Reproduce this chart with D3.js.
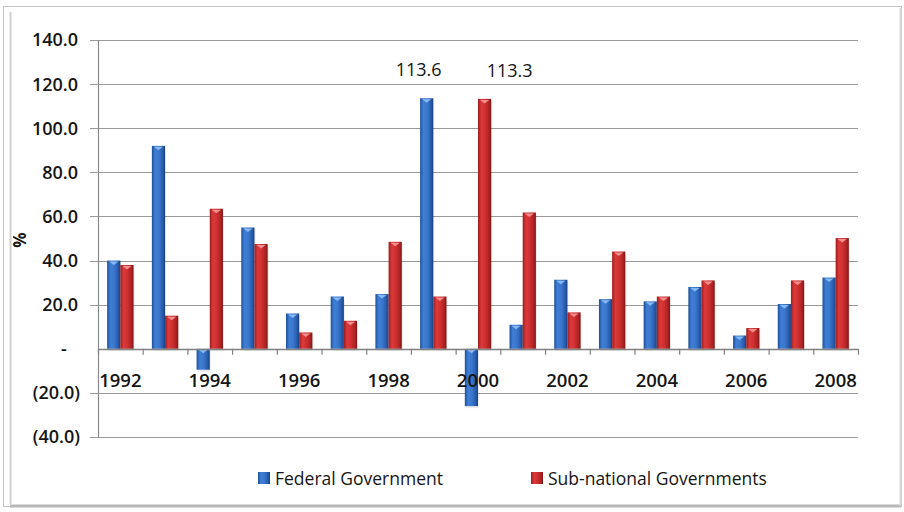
<!DOCTYPE html>
<html>
<head>
<meta charset="utf-8">
<script src="https://cdn.jsdelivr.net/npm/d3@7/dist/d3.min.js"></script>
<style>
  html, body { margin: 0; padding: 0; background: #fff; }
  svg { display: block; }
  text { font-family: "Open Sans", "Noto Sans", sans-serif; fill: #151515; }
</style>
</head>
<body>
<svg id="chart" width="904" height="512"></svg>
<script>
const years = ["1992","1993","1994","1995","1996","1997","1998","1999","2000","2001","2002","2003","2004","2005","2006","2007","2008"];
const federal = [40.0, 92.0, -9.5, 55.0, 16.0, 23.7, 24.8, 113.6, -26.0, 10.9, 31.3, 22.5, 21.5, 28.0, 6.0, 20.3, 32.3];
const subnational = [38.0, 15.0, 63.5, 47.5, 7.4, 12.7, 48.5, 23.7, 113.3, 61.8, 16.5, 44.1, 23.7, 31.0, 9.4, 31.0, 50.2];
const yTicks = [-40, -20, 0, 20, 40, 60, 80, 100, 120, 140];
const xLabelYears = ["1992","1994","1996","1998","2000","2002","2004","2006","2008"];
const seriesNames = ["Federal Government", "Sub-national Governments"];
const labelled = [{ series: 0, year: "1999", text: "113.6" }, { series: 1, year: "2000", text: "113.3" }];

(function () {
const svg = d3.select("#chart");
const pL = 98, pR = 858, pT = 40, pB = 437;

// frame
svg.append("rect").attr("x", 3.5).attr("y", 6.5).attr("width", 898).attr("height", 500)
  .attr("fill", "#fff").attr("stroke", "#c4c4c4").attr("stroke-width", 1);
svg.append("line").attr("x1", 10.5).attr("x2", 10.5).attr("y1", 12).attr("y2", 504)
  .attr("stroke", "#d0d0d0").attr("stroke-width", 2);
svg.append("line").attr("x1", 10).attr("x2", 901).attr("y1", 506).attr("y2", 506)
  .attr("stroke", "#b8b8b8").attr("stroke-width", 3);
svg.append("line").attr("x1", 900.5).attr("x2", 900.5).attr("y1", 8).attr("y2", 506)
  .attr("stroke", "#d8d8d8").attr("stroke-width", 2);

const defs = svg.append("defs");
function grad(id, stops) {
  const g = defs.append("linearGradient").attr("id", id).attr("x1", "0%").attr("x2", "100%").attr("y1", "0%").attr("y2", "0%");
  stops.forEach(s => g.append("stop").attr("offset", s[0]).attr("stop-color", s[1]));
}
grad("gBlue", [["0%", "#1e4f99"], ["25%", "#3f7fd6"], ["55%", "#3a76cc"], ["85%", "#2658a8"], ["100%", "#1a3f7e"]]);
grad("gRed", [["0%", "#9c1c1c"], ["25%", "#dc3a3a"], ["55%", "#cf2f2f"], ["85%", "#a92222"], ["100%", "#7e1414"]]);
const fills = ["url(#gBlue)", "url(#gRed)"];
const capFill = ["#8fc0f5", "#f59a9a"];

const x = d3.scaleBand().domain(years).range([pL, pR]).paddingInner(0).paddingOuter(0);
const y = d3.scaleLinear().domain([-40, 140]).range([pB, pT]);
const bw = x.bandwidth() * 0.295;

// gridlines
svg.append("g").selectAll("line").data(yTicks.filter(t => t !== 0)).join("line")
  .attr("x1", pL - 8).attr("x2", pR)
  .attr("y1", d => Math.round(y(d)) + 0.5).attr("y2", d => Math.round(y(d)) + 0.5)
  .attr("stroke", "#9a9a9a").attr("stroke-width", 1.2);

// y axis line
svg.append("line").attr("x1", pL + 0.5).attr("x2", pL + 0.5).attr("y1", y(140)).attr("y2", y(-40))
  .attr("stroke", "#8a8a8a").attr("stroke-width", 1.2);

// y tick labels
const fmt = d => d === 0 ? "-" : (d < 0 ? "(" + Math.abs(d).toFixed(1) + ")" : d.toFixed(1));
svg.append("g").selectAll("text").data(yTicks).join("text")
  .attr("x", d => d === 0 ? pL - 34 : (d < 0 ? pL - 18 : pL - 20))
  .attr("y", d => y(d))
  .attr("dy", "0.36em")
  .attr("text-anchor", d => d === 0 ? "middle" : "end")
  .attr("font-size", 18).attr("font-weight", 600)
  .text(fmt);

// bars
const groups = [federal, subnational];
groups.forEach((vals, si) => {
  const g = svg.append("g");
  const data = years.map((yr, i) => ({ yr, v: vals[i] }));
  const bx = d => x(d.yr) + x.bandwidth() / 2 + (si === 0 ? -bw : 0);
  g.selectAll("rect.sh").data(data).join("rect").attr("class", "sh")
    .attr("x", d => bx(d) + 1).attr("width", bw)
    .attr("y", d => Math.min(y(d.v), y(0)) + 2)
    .attr("height", d => Math.abs(y(d.v) - y(0)))
    .attr("fill", "#000").attr("opacity", 0.08);
  g.selectAll("rect.bar").data(data).join("rect").attr("class", "bar")
    .attr("x", bx).attr("width", bw)
    .attr("y", d => Math.min(y(d.v), y(0)))
    .attr("height", d => Math.abs(y(d.v) - y(0)))
    .attr("fill", fills[si]);
  g.selectAll("path.cap").data(data).join("path").attr("class", "cap")
    .attr("d", d => {
      const x0 = bx(d), yt = Math.min(y(d.v), y(0));
      return `M${x0 + 2},${yt + 1} L${x0 + bw - 2},${yt + 1} L${x0 + bw / 2},${yt + 4.5} Z`;
    })
    .attr("fill", capFill[si]).attr("opacity", 0.9);
});

// x axis (zero line)
svg.append("line").attr("x1", pL).attr("x2", pR).attr("y1", Math.round(y(0)) + 0.5).attr("y2", Math.round(y(0)) + 0.5)
  .attr("stroke", "#808080").attr("stroke-width", 1.3);
const bounds = years.map(d => x(d)).concat([pR]);
svg.append("g").selectAll("line").data(bounds).join("line")
  .attr("x1", d => d + 0.5).attr("x2", d => d + 0.5)
  .attr("y1", y(0)).attr("y2", y(0) + 6)
  .attr("stroke", "#808080").attr("stroke-width", 1.2);

// x labels
svg.append("g").selectAll("text").data(xLabelYears).join("text")
  .attr("x", d => x(d) + x.bandwidth() / 2)
  .attr("y", 387)
  .attr("text-anchor", "middle")
  .attr("font-size", 18.5).attr("font-weight", 600)
  .text(d => d);

// data labels
labelled.forEach(l => {
  const vals = groups[l.series];
  const v = vals[years.indexOf(l.year)];
  const cx = x(l.year) + x.bandwidth() / 2 + (l.series === 0 ? -bw / 2 - 8 : bw / 2 + 25);
  svg.append("text").attr("x", cx).attr("y", y(v) - 22)
    .attr("text-anchor", "middle").attr("font-size", 18).attr("font-weight", 400)
    .text(l.text);
});

// axis title
svg.append("text").attr("transform", "translate(26,240) rotate(-90)")
  .attr("text-anchor", "middle").attr("font-size", 17).attr("font-weight", 700)
  .text("%");

// legend
const legendPos = [{ sx: 258, tx: 275 }, { sx: 531, tx: 548 }];
seriesNames.forEach((name, i) => {
  svg.append("rect").attr("x", legendPos[i].sx).attr("y", 472).attr("width", 12).attr("height", 12)
    .attr("fill", fills[i]);
  svg.append("text").attr("x", legendPos[i].tx).attr("y", 485)
    .attr("font-size", 17.5).attr("font-weight", 500)
    .text(name);
});
})();
</script>
</body>
</html>
